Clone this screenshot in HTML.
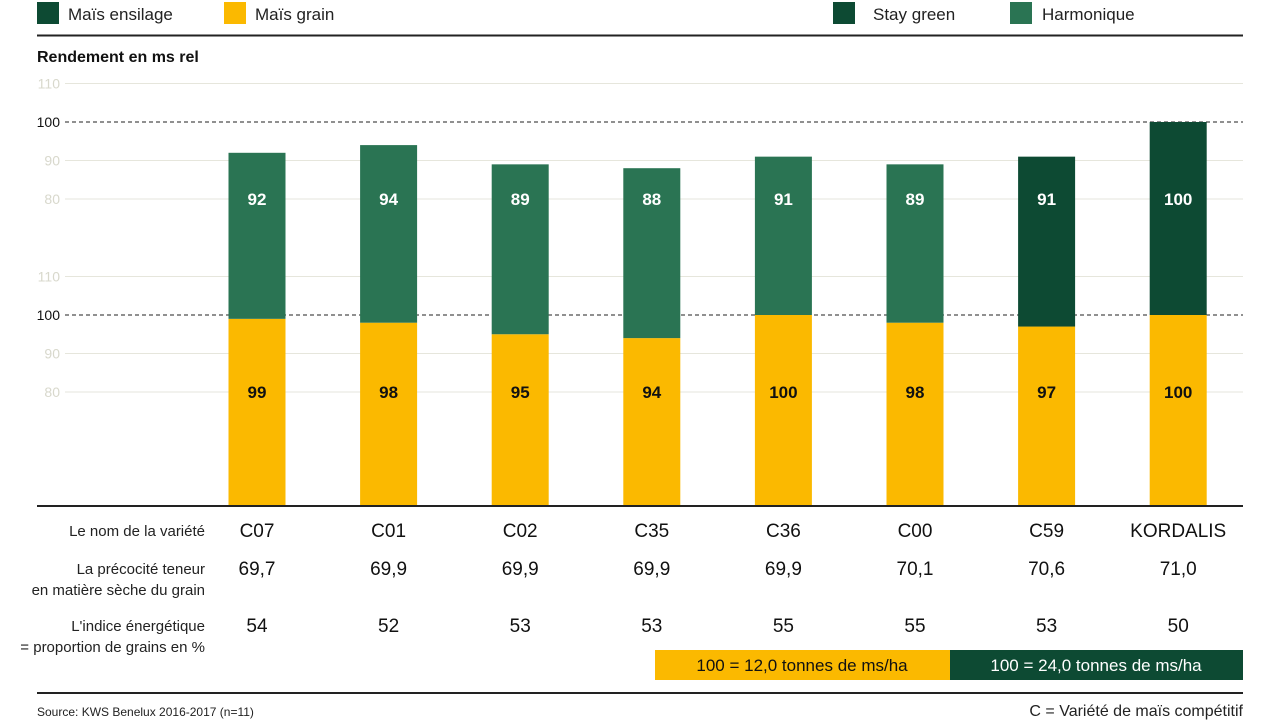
<!DOCTYPE html>
<html><head><meta charset="utf-8"><style>
body{margin:0;background:#fff;width:1280px;height:720px;overflow:hidden;font-family:"Liberation Sans",sans-serif}
</style></head><body>
<svg id="c" width="1280" height="720" xmlns="http://www.w3.org/2000/svg" font-family="Liberation Sans, sans-serif">
<g>
<rect x="37" y="2" width="22" height="22" fill="#0d4a33"/><text x="68" y="20" font-size="17" fill="#222">Maïs ensilage</text>
<rect x="224" y="2" width="22" height="22" fill="#fbb900"/><text x="255" y="20" font-size="17" fill="#222">Maïs grain</text>
<rect x="833" y="2" width="22" height="22" fill="#0d4a33"/><text x="873" y="20" font-size="17" fill="#222">Stay green</text>
<rect x="1010" y="2" width="22" height="22" fill="#2a7453"/><text x="1042" y="20" font-size="17" fill="#222">Harmonique</text>
</g>
<line x1="37" y1="35.5" x2="1243" y2="35.5" stroke="#222" stroke-width="2"/>
<text x="37" y="62" font-size="16" font-weight="bold" fill="#111">Rendement en ms rel</text>
<g id="grid"></g><g id="bars"></g>
<line x1="37" y1="506" x2="1243" y2="506" stroke="#222" stroke-width="2"/>
<g font-size="15" fill="#222" text-anchor="end">
<text x="205" y="536">Le nom de la variété</text>
<text x="205" y="574">La précocité teneur</text>
<text x="205" y="595">en matière sèche du grain</text>
<text x="205" y="631">L'indice énergétique</text>
<text x="205" y="652">= proportion de grains en %</text>
</g>
<g id="rows"></g>
<rect x="655" y="650" width="295" height="30" fill="#fbb900"/><text x="802" y="671" font-size="17" text-anchor="middle" fill="#111">100 = 12,0 tonnes de ms/ha</text>
<rect x="950" y="650" width="293" height="30" fill="#0d4a33"/><text x="1096" y="671" font-size="17" text-anchor="middle" fill="#fff">100 = 24,0 tonnes de ms/ha</text>
<line x1="37" y1="693" x2="1243" y2="693" stroke="#222" stroke-width="2"/>
<text x="37" y="716" font-size="12" fill="#222">Source: KWS Benelux 2016-2017 (n=11)</text>
<text x="1243" y="716" font-size="16" fill="#222" text-anchor="end">C = Variété de maïs compétitif</text>
</svg>
<script>
const categories=["C07","C01","C02","C35","C36","C00","C59","KORDALIS"];
const silage=[92,94,89,88,91,89,91,100];
const grain=[99,98,95,94,100,98,97,100];
const silageType=["h","h","h","h","h","h","s","s"];
const precocity=["69,7","69,9","69,9","69,9","69,9","70,1","70,6","71,0"];
const energy=["54","52","53","53","55","55","53","50"];
const ticks=[110,100,90,80];
const NS="http://www.w3.org/2000/svg";
const k=3.85;
const yU=v=>122+(100-v)*k, yL=v=>315+(100-v)*k;
const xC=i=>257+i*131.6;
function mk(tag,a,p,txt){const e=document.createElementNS(NS,tag);for(const n in a)e.setAttribute(n,a[n]);if(txt!==undefined)e.textContent=txt;p.appendChild(e);return e;}
const g=document.getElementById('grid'),b=document.getElementById('bars'),r=document.getElementById('rows');
[yU,yL].forEach(f=>ticks.forEach(t=>{
 const y=f(t);const main=t===100;
 const l=mk('line',{x1:65,y1:y,x2:1243,y2:y,stroke:main?'#222':'#e6e6dc','stroke-width':1,'stroke-dasharray':main?'4,3':''},g);
 
 
 const tx=mk('text',{x:60,y:y+5,'font-size':14,'text-anchor':'end',fill:main?'#111':'#d8d8cc'},g,t);
 
 
}));
categories.forEach((c,i)=>{
 const x=xC(i)-28.5;
 const gy=yL(grain[i]);
 const r1=mk('rect',{x:x,y:gy,width:57,height:507-gy,fill:'#fbb900'},b);
 
 
 mk('text',{x:xC(i),y:yL(80)+6,'font-size':17,'font-weight':'bold','text-anchor':'middle',fill:'#111'},b,grain[i]);
 const sy=yU(silage[i]);
 const r2=mk('rect',{x:x,y:sy,width:57,height:gy-sy,fill:silageType[i]==='s'?'#0d4a33':'#2a7453'},b);
 
 
 mk('text',{x:xC(i),y:yU(80)+6,'font-size':17,'font-weight':'bold','text-anchor':'middle',fill:'#fff'},b,silage[i]);
 mk('text',{x:xC(i),y:537,'font-size':19,'text-anchor':'middle',fill:'#111'},r,c);
 mk('text',{x:xC(i),y:575,'font-size':19,'text-anchor':'middle',fill:'#111'},r,precocity[i]);
 mk('text',{x:xC(i),y:632,'font-size':19,'text-anchor':'middle',fill:'#111'},r,energy[i]);
});
</script>
</body></html>
